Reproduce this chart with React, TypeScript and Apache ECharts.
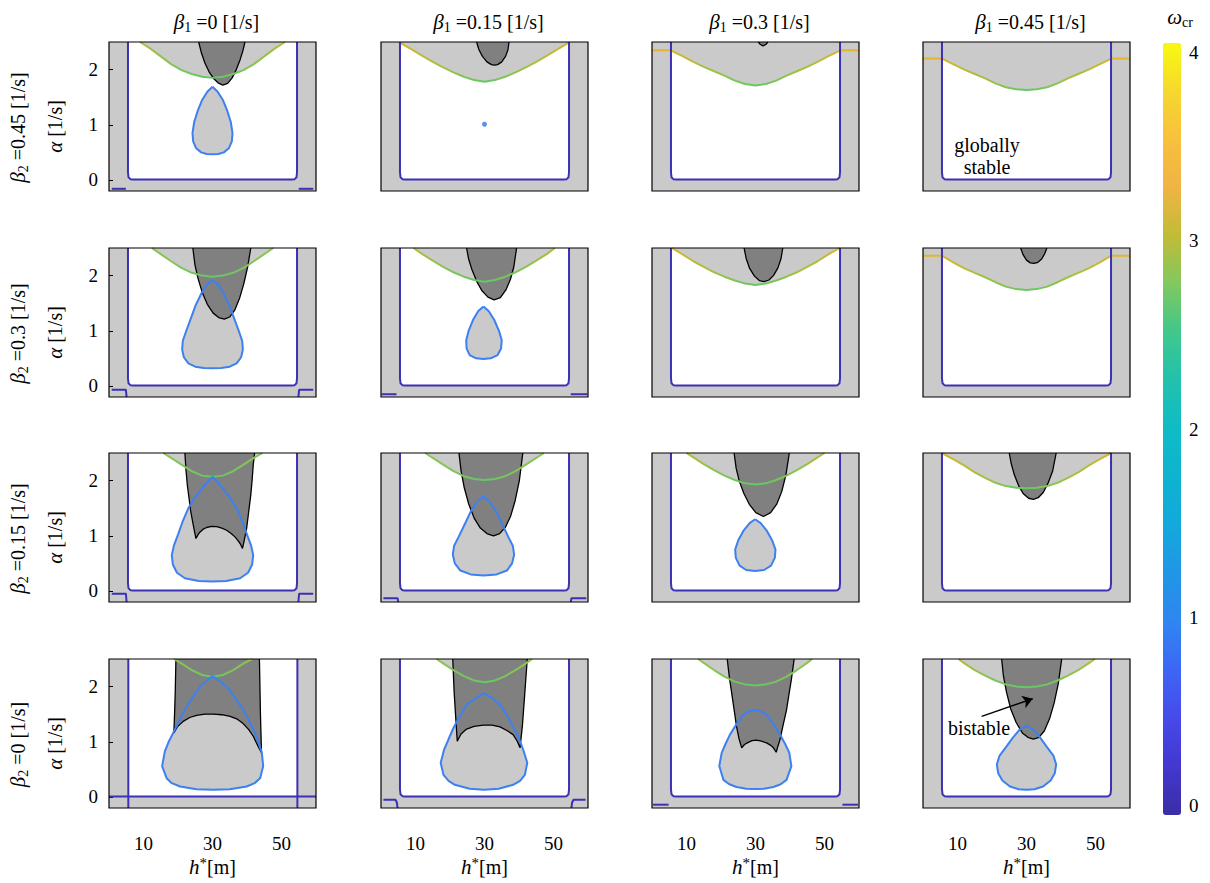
import React, { useEffect, useRef } from 'react';
import * as echarts from 'echarts';

// ---------------- values ----------------
const beta1Values = ['0', '0.15', '0.3', '0.45'];
const beta2Values = ['0.45', '0.3', '0.15', '0'];
const xTickValues = [10, 20, 30, 40, 50];
const xLabelValues = [10, 30, 50];
const yTickValues = [0, 1, 2];
const colorbarTicks = [0, 1, 2, 3, 4];
const xMin = 0, xMax = 60, yMin = -0.2, yMax = 2.5;
const cbMin = -0.05, cbMax = 4.05;

// stability boundary (omega ~ 0.1)
const boundaryU = [[5.5, 2.5], [5.5, 0.14], [5.65, 0.05], [6.2, 0.015], [7, 0.01], [53, 0.01], [53.8, 0.015], [54.35, 0.05], [54.5, 0.14], [54.5, 2.5]];
const boundaryCrossL = [[5.6, 2.5], [5.6, -0.2]];
const boundaryCrossR = [[54.6, 2.5], [54.6, -0.2]];
const boundaryCrossH = [[0, 0.01], [60, 0.01]];
const whiteBaseCross = [[5.6, 0.01], [54.6, 0.01]];

// small boundary pieces near the lower corners
const corner00a = [[0.8, -0.16], [4.9, -0.16]];
const corner00b = [[55.0, -0.16], [59.2, -0.16]];
const corner10a = [[0.8, -0.07], [4.9, -0.07], [5.1, -0.2]];
const corner10b = [[54.9, -0.2], [55.1, -0.07], [59.2, -0.07]];
const corner20a = [[0.8, -0.05], [4.9, -0.05], [5.1, -0.2]];
const corner20b = [[54.9, -0.2], [55.1, -0.05], [59.2, -0.05]];
const corner11a = [[0.2, -0.15], [4.5, -0.15]];
const corner11b = [[55.0, -0.15], [59.8, -0.15]];
const corner21a = [[0.7, -0.13], [4.8, -0.13], [5.0, -0.2]];
const corner21b = [[55.0, -0.2], [55.2, -0.13], [59.5, -0.13]];
const corner31a = [[0.7, -0.05], [4.2, -0.05], [4.6, -0.1], [4.8, -0.2]];
const corner31b = [[55.2, -0.2], [55.4, -0.1], [55.8, -0.05], [59.3, -0.05]];
const corner32a = [[0.3, -0.14], [4.8, -0.14]];
const corner32b = [[55.2, -0.14], [59.7, -0.14]];

// upper stability curves (omega ~ 2.5 - 3.3)
const g00 = [[9, 2.5], [12, 2.38], [15, 2.24], [18, 2.1], [21, 1.99], [24, 1.92], [27, 1.87], [30, 1.85], [33, 1.87], [36, 1.92], [39, 1.99], [42, 2.1], [45, 2.24], [48, 2.38], [51, 2.5]];
const g01 = [[5.5, 2.49], [9, 2.36], [12, 2.25], [15, 2.14], [18, 2.04], [21, 1.95], [24, 1.87], [27, 1.81], [30, 1.78], [33, 1.81], [36, 1.87], [39, 1.95], [42, 2.04], [45, 2.14], [48, 2.25], [51, 2.36], [54.4, 2.49]];
const g02 = [[5.4, 2.35], [9, 2.24], [12, 2.14], [15, 2.05], [18, 1.97], [21, 1.89], [24, 1.8], [27, 1.74], [30, 1.71], [33, 1.74], [36, 1.8], [39, 1.89], [42, 1.97], [45, 2.05], [48, 2.14], [51, 2.24], [54.6, 2.35]];
const g03 = [[5.5, 2.2], [9, 2.09], [12, 2.0], [15, 1.92], [18, 1.84], [21, 1.75], [24, 1.68], [27, 1.645], [30, 1.63], [33, 1.645], [36, 1.68], [39, 1.75], [42, 1.84], [45, 1.92], [48, 2.0], [51, 2.09], [54.6, 2.2]];
const g10 = [[12.4, 2.5], [15, 2.39], [18, 2.26], [21, 2.14], [24, 2.05], [27, 2.0], [30, 1.98], [33, 2.0], [36, 2.05], [39, 2.14], [42, 2.26], [45, 2.39], [47.6, 2.5]];
const g11 = [[9.4, 2.5], [12, 2.39], [15, 2.27], [18, 2.16], [21, 2.06], [24, 1.98], [27, 1.92], [30, 1.89], [33, 1.92], [36, 1.98], [39, 2.06], [42, 2.16], [45, 2.27], [48, 2.39], [50.4, 2.5]];
const g12 = [[5.7, 2.5], [9, 2.38], [12, 2.26], [15, 2.16], [18, 2.06], [21, 1.98], [24, 1.91], [27, 1.855], [30, 1.83], [33, 1.855], [36, 1.91], [39, 1.98], [42, 2.06], [45, 2.16], [48, 2.26], [51, 2.38], [54.4, 2.5]];
const g13 = [[5.5, 2.36], [9, 2.23], [12, 2.13], [15, 2.05], [18, 1.97], [21, 1.88], [24, 1.8], [27, 1.755], [30, 1.74], [33, 1.755], [36, 1.8], [39, 1.88], [42, 1.97], [45, 2.05], [48, 2.13], [51, 2.23], [54.6, 2.36]];
const g20 = [[15.7, 2.5], [18, 2.41], [21, 2.29], [24, 2.17], [27, 2.09], [30, 2.07], [33, 2.09], [36, 2.17], [39, 2.29], [42, 2.41], [44.5, 2.5]];
const g21 = [[12.8, 2.5], [15, 2.41], [18, 2.29], [21, 2.17], [24, 2.08], [27, 2.03], [30, 2.01], [33, 2.03], [36, 2.08], [39, 2.17], [42, 2.29], [45, 2.41], [47.2, 2.5]];
const g22 = [[10, 2.5], [12, 2.42], [15, 2.3], [18, 2.19], [21, 2.09], [24, 2.01], [27, 1.95], [30, 1.93], [33, 1.95], [36, 2.01], [39, 2.09], [42, 2.19], [45, 2.3], [48, 2.42], [50, 2.5]];
const g23 = [[5.4, 2.5], [9, 2.38], [12, 2.27], [15, 2.15], [18, 2.05], [21, 1.96], [24, 1.9], [27, 1.87], [30, 1.86], [33, 1.87], [36, 1.9], [39, 1.96], [42, 2.05], [45, 2.15], [48, 2.27], [51, 2.38], [54.6, 2.5]];
const g30 = [[18.8, 2.5], [21, 2.42], [24, 2.3], [27, 2.21], [30, 2.18], [33, 2.21], [36, 2.3], [39, 2.42], [41.5, 2.5]];
const g31 = [[16.1, 2.5], [18, 2.42], [21, 2.3], [24, 2.19], [27, 2.11], [30, 2.08], [33, 2.11], [36, 2.19], [39, 2.3], [42, 2.42], [43.8, 2.5]];
const g32 = [[13.4, 2.5], [15, 2.43], [18, 2.3], [21, 2.18], [24, 2.09], [27, 2.04], [30, 2.02], [33, 2.04], [36, 2.09], [39, 2.18], [42, 2.3], [45, 2.43], [46.4, 2.5]];
const g33 = [[10.3, 2.5], [12, 2.42], [15, 2.3], [18, 2.2], [21, 2.11], [24, 2.04], [27, 2.0], [30, 1.99], [33, 2.0], [36, 2.04], [39, 2.11], [42, 2.2], [45, 2.3], [48, 2.42], [49.8, 2.5]];

// plateau segments outside the boundary
const p02a = [[0, 2.35], [5.4, 2.35]];
const p02b = [[54.6, 2.35], [60, 2.35]];
const p03a = [[0, 2.2], [5.5, 2.2]];
const p03b = [[54.6, 2.2], [60, 2.2]];
const p13a = [[0, 2.36], [5.5, 2.36]];
const p13b = [[54.6, 2.36], [60, 2.36]];

// bistable region outlines (black)
const k00 = [[26.0, 2.5], [26.8, 2.3], [27.8, 2.12], [29, 1.96], [30.3, 1.84], [31.6, 1.76], [33, 1.72], [34.4, 1.75], [35.7, 1.85], [36.9, 2.0], [38, 2.18], [38.8, 2.34], [39.4, 2.5]];
const k01 = [[27.7, 2.5], [28.4, 2.36], [29.4, 2.24], [30.7, 2.14], [32, 2.09], [32.9, 2.08], [33.8, 2.09], [35, 2.14], [36.1, 2.24], [36.8, 2.36], [37.1, 2.5]];
const k02 = [[30.8, 2.5], [31.3, 2.46], [32.2, 2.43], [33.1, 2.46], [33.6, 2.5]];
const k10 = [[24.3, 2.5], [24.9, 2.2], [25.8, 1.95], [27, 1.7], [28.5, 1.48], [30.2, 1.32], [31.8, 1.24], [33.4, 1.21], [35, 1.25], [36.5, 1.38], [37.9, 1.6], [39.1, 1.86], [40.2, 2.16], [41.1, 2.5]];
const k11 = [[24.8, 2.5], [25.4, 2.3], [26.4, 2.1], [27.7, 1.9], [29.2, 1.73], [31, 1.61], [32.8, 1.56], [34.6, 1.6], [36.2, 1.74], [37.5, 1.93], [38.5, 2.16], [39.3, 2.5]];
const k12 = [[26.7, 2.5], [27.3, 2.31], [28.3, 2.13], [29.7, 1.99], [31.1, 1.91], [32.5, 1.89], [33.9, 1.92], [35.2, 2.0], [36.5, 2.14], [37.4, 2.31], [37.9, 2.5]];
const k13 = [[28.3, 2.5], [29, 2.38], [30, 2.28], [31.1, 2.23], [32.2, 2.22], [33.3, 2.24], [34.4, 2.3], [35.3, 2.4], [35.9, 2.5]];
const k20 = [[22.0, 2.5], [22.3, 2.2], [22.7, 1.92], [23.2, 1.68], [23.7, 1.44], [24.4, 1.2], [25.2, 0.95], [25.8, 1.02], [26.4, 1.07], [27.3, 1.12], [28.3, 1.15], [29.7, 1.17], [31.2, 1.165], [32.7, 1.14], [34.1, 1.1], [35.4, 1.04], [36.5, 0.98], [37.3, 0.92], [38, 0.86], [38.7, 0.77], [39.3, 0.95], [39.9, 1.14], [40.5, 1.44], [41.1, 1.74], [41.5, 2.02], [41.8, 2.28], [42.2, 2.5]];
const k21 = [[22.6, 2.5], [23.2, 2.18], [24.1, 1.88], [25.4, 1.58], [27, 1.32], [28.8, 1.14], [30.7, 1.04], [32.6, 1.0], [34.4, 1.04], [36.1, 1.16], [37.6, 1.36], [38.9, 1.64], [40.1, 2.0], [41.1, 2.5]];
const k22 = [[23.8, 2.5], [24.4, 2.22], [25.3, 1.99], [26.6, 1.77], [28.2, 1.57], [30.1, 1.42], [32.3, 1.35], [34.4, 1.42], [36.2, 1.58], [37.6, 1.8], [38.8, 2.1], [39.8, 2.5]];
const k23 = [[25, 2.5], [25.6, 2.3], [26.5, 2.1], [27.7, 1.91], [29.1, 1.76], [30.6, 1.68], [32, 1.66], [33.4, 1.69], [34.9, 1.79], [36.3, 1.96], [37.6, 2.18], [38.6, 2.5]];
const k30 = [[19.4, 2.5], [19.2, 1.9], [19, 1.5], [18.8, 1.16], [19.8, 1.27], [21.5, 1.37], [23.4, 1.44], [25.4, 1.48], [27.8, 1.5], [30.2, 1.5], [32.7, 1.49], [35.1, 1.46], [37.2, 1.41], [38.9, 1.33], [40.5, 1.22], [41.8, 1.1], [43.2, 0.92], [44.2, 0.8], [43.9, 1.5], [43.6, 2.5]];
const k31 = [[20.8, 2.5], [21.2, 1.9], [21.7, 1.4], [22.1, 1.01], [23.2, 1.14], [24.8, 1.23], [27, 1.28], [29.7, 1.3], [32.2, 1.3], [34.5, 1.27], [36.6, 1.2], [38.3, 1.13], [39.5, 1.01], [40.3, 0.89], [41, 1.3], [41.7, 1.9], [42.4, 2.5]];
const k32 = [[21.8, 2.5], [22.4, 2.18], [23.1, 1.88], [23.8, 1.58], [24.5, 1.28], [25.2, 1.06], [26, 0.89], [26.8, 0.95], [27.9, 0.99], [29, 1.02], [30.3, 1.03], [31.7, 1.01], [33.2, 0.98], [34.3, 0.94], [35.2, 0.89], [36, 0.81], [36.5, 0.92], [37.1, 1.04], [38, 1.3], [39, 1.58], [39.7, 1.86], [40.4, 2.13], [41.2, 2.5]];
const k33 = [[22.8, 2.5], [23.3, 2.2], [24.2, 1.9], [25.4, 1.6], [27, 1.35], [28.8, 1.16], [30.4, 1.08], [32, 1.05], [33.6, 1.08], [35.2, 1.2], [36.7, 1.42], [38, 1.7], [39.2, 2.05], [40.2, 2.5]];

// unstable islands (omega ~ 1)
const d00 = [[30, 1.69], [31.5, 1.6], [33, 1.45], [34.3, 1.25], [35.3, 1.05], [35.8, 0.85], [35.6, 0.7], [34.8, 0.58], [33.3, 0.5], [31.7, 0.47], [30, 0.465], [28.3, 0.47], [26.7, 0.5], [25.2, 0.58], [24.4, 0.7], [24.2, 0.85], [24.7, 1.05], [25.7, 1.25], [27, 1.45], [28.5, 1.6], [30, 1.69]];
const dot01 = [[30, 1.01, 0.8]];
const d10 = [[30, 1.92], [31.6, 1.84], [33.2, 1.68], [34.9, 1.46], [36.3, 1.22], [37.6, 1.0], [38.6, 0.82], [38.8, 0.66], [38.3, 0.52], [37, 0.41], [35, 0.35], [32.5, 0.325], [30, 0.32], [27.5, 0.325], [25, 0.35], [23, 0.41], [21.7, 0.52], [21.2, 0.66], [21.4, 0.82], [22.4, 1.0], [23.7, 1.22], [25.1, 1.46], [26.8, 1.68], [28.4, 1.84], [30, 1.92]];
const d11 = [[29.7, 1.44], [31.2, 1.36], [32.8, 1.2], [34.2, 1.0], [35, 0.83], [34.8, 0.68], [33.8, 0.56], [31.8, 0.5], [29.7, 0.49], [27.6, 0.5], [25.7, 0.56], [24.8, 0.68], [24.7, 0.83], [25.4, 1.0], [26.7, 1.2], [28.2, 1.36], [29.7, 1.44]];
const d20 = [[30, 2.07], [32.5, 1.9], [35, 1.7], [37, 1.5], [38.7, 1.25], [40, 1.02], [41.2, 0.82], [41.8, 0.65], [41.5, 0.48], [40.3, 0.33], [38, 0.23], [34, 0.18], [30, 0.17], [26, 0.18], [22, 0.23], [19.7, 0.33], [18.5, 0.48], [18.2, 0.65], [18.8, 0.82], [20, 1.02], [21.3, 1.25], [23, 1.5], [25, 1.7], [27.5, 1.9], [30, 2.07]];
const d21 = [[29.7, 1.71], [31.5, 1.62], [33.3, 1.45], [35.2, 1.2], [36.9, 0.98], [38.2, 0.82], [38.6, 0.66], [38, 0.5], [36.5, 0.37], [33.5, 0.3], [29.7, 0.28], [26, 0.3], [23, 0.37], [21.4, 0.5], [20.8, 0.66], [21.2, 0.82], [22.5, 0.98], [24.2, 1.2], [26.1, 1.45], [27.9, 1.62], [29.7, 1.71]];
const d22 = [[29.9, 1.3], [31.5, 1.23], [33.2, 1.1], [34.8, 0.92], [35.8, 0.75], [35.6, 0.6], [34.5, 0.46], [32.5, 0.38], [29.9, 0.36], [27.3, 0.38], [25.4, 0.46], [24.3, 0.6], [24.1, 0.75], [25, 0.92], [26.6, 1.1], [28.3, 1.23], [29.9, 1.3]];
const d30 = [[30, 2.19], [32, 2.1], [34.1, 2.0], [36.5, 1.8], [38.9, 1.58], [40.7, 1.37], [42.3, 1.16], [43.4, 0.98], [44.3, 0.8], [44.7, 0.56], [43.8, 0.34], [42.2, 0.25], [39.9, 0.19], [35, 0.14], [30.2, 0.13], [25.4, 0.14], [20.6, 0.19], [18.2, 0.25], [16.7, 0.34], [15.4, 0.56], [16.2, 0.83], [17.3, 1.0], [18.6, 1.16], [20.3, 1.37], [22, 1.58], [24.2, 1.8], [26.4, 2.0], [28.2, 2.1], [30, 2.19]];
const d31 = [[29.9, 1.88], [32.2, 1.79], [34.5, 1.67], [36.8, 1.45], [38.8, 1.22], [40.1, 1.04], [41.2, 0.86], [42.4, 0.62], [41.7, 0.4], [40.3, 0.29], [38.3, 0.22], [34.1, 0.15], [29.9, 0.13], [25.7, 0.15], [21.4, 0.22], [19.6, 0.29], [18.1, 0.4], [17.3, 0.62], [18.3, 0.86], [19.6, 1.05], [21, 1.25], [22.8, 1.46], [24.8, 1.67], [27.4, 1.79], [29.9, 1.88]];
const d32 = [[29.9, 1.58], [31.6, 1.55], [33.2, 1.49], [35.2, 1.32], [37.1, 1.13], [38.6, 0.96], [39.8, 0.8], [40.4, 0.56], [39, 0.31], [37.3, 0.23], [35.2, 0.18], [32.5, 0.15], [29.9, 0.145], [27.3, 0.15], [24.5, 0.18], [22.4, 0.23], [20.7, 0.31], [19.5, 0.56], [20.2, 0.8], [21.3, 0.96], [22.6, 1.13], [24.5, 1.32], [26.5, 1.49], [28.2, 1.55], [29.9, 1.58]];
const d33 = [[30, 1.29], [32, 1.22], [34, 1.07], [36, 0.9], [37.8, 0.75], [38.6, 0.59], [38.2, 0.43], [37, 0.3], [34.8, 0.19], [32.3, 0.14], [30, 0.13], [27.7, 0.14], [25.2, 0.19], [23, 0.3], [21.8, 0.43], [21.4, 0.59], [22.2, 0.75], [24, 0.9], [26, 1.07], [28, 1.22], [30, 1.29]];

// annotation arrow (data coords of panel beta1=0.45, beta2=0)
const bistableArrow = [[17.0, 1.46], [31.8, 1.78]];

// parula-like colour map, evenly spaced every 0.25 from 0 to 4
const parula = ['#3b2ea5', '#4337cf', '#4749e9', '#3d66f3', '#2f86f2', '#2096e6', '#14a8dc', '#0db3d0', '#0ebcc6', '#22c1ad', '#3fc78c', '#80c860', '#c0bc36', '#f0b444', '#f7c03e', '#f6d82e', '#f8f910'];

type Pt = number[];
interface Panel { r: number; c: number; green: Pt[]; black?: Pt[]; drop?: Pt[]; dot?: Pt[]; plateaus: Pt[][]; boundary: Pt[][]; base: Pt[]; }

const whiteBaseU = boundaryU.slice(1, -1);

const panels: Panel[] = [
  { r: 0, c: 0, green: g00, black: k00, drop: d00, plateaus: [], boundary: [boundaryU, corner00a, corner00b], base: whiteBaseU },
  { r: 0, c: 1, green: g01, black: k01, dot: dot01, plateaus: [], boundary: [boundaryU], base: whiteBaseU },
  { r: 0, c: 2, green: g02, black: k02, plateaus: [p02a, p02b], boundary: [boundaryU], base: whiteBaseU },
  { r: 0, c: 3, green: g03, plateaus: [p03a, p03b], boundary: [boundaryU], base: whiteBaseU },
  { r: 1, c: 0, green: g10, black: k10, drop: d10, plateaus: [], boundary: [boundaryU, corner10a, corner10b], base: whiteBaseU },
  { r: 1, c: 1, green: g11, black: k11, drop: d11, plateaus: [], boundary: [boundaryU, corner11a, corner11b], base: whiteBaseU },
  { r: 1, c: 2, green: g12, black: k12, plateaus: [], boundary: [boundaryU], base: whiteBaseU },
  { r: 1, c: 3, green: g13, black: k13, plateaus: [p13a, p13b], boundary: [boundaryU], base: whiteBaseU },
  { r: 2, c: 0, green: g20, black: k20, drop: d20, plateaus: [], boundary: [boundaryU, corner20a, corner20b], base: whiteBaseU },
  { r: 2, c: 1, green: g21, black: k21, drop: d21, plateaus: [], boundary: [boundaryU, corner21a, corner21b], base: whiteBaseU },
  { r: 2, c: 2, green: g22, black: k22, drop: d22, plateaus: [], boundary: [boundaryU], base: whiteBaseU },
  { r: 2, c: 3, green: g23, black: k23, plateaus: [], boundary: [boundaryU], base: whiteBaseU },
  { r: 3, c: 0, green: g30, black: k30, drop: d30, plateaus: [], boundary: [boundaryCrossL, boundaryCrossR, boundaryCrossH], base: whiteBaseCross },
  { r: 3, c: 1, green: g31, black: k31, drop: d31, plateaus: [], boundary: [boundaryU, corner31a, corner31b], base: whiteBaseU },
  { r: 3, c: 2, green: g32, black: k32, drop: d32, plateaus: [], boundary: [boundaryU, corner32a, corner32b], base: whiteBaseU },
  { r: 3, c: 3, green: g33, black: k33, drop: d33, plateaus: [], boundary: [boundaryU], base: whiteBaseU },
];

// ---------------- layout / style ----------------
const COL_LEFT = [109, 381, 652, 923];
const ROW_TOP = [42, 248, 453, 659];
const PW = 207, PH = 149;
const CB_LEFT = 1163, CB_TOP = 43, CB_W = 18, CB_H = 772;
const SERIF = "'Liberation Serif', 'DejaVu Serif', serif";
const LIGHT = '#cacaca', DARK = '#808080', PURPLE = '#3c31b4', BLUE = '#3c80f2', PLATEAU = '#e2b52c';
const FS = 20;

const RICH: any = {
  it: { fontFamily: SERIF, fontStyle: 'italic', fontSize: FS + 1, lineHeight: 24, fill: '#000', color: '#000' },
  n: { fontFamily: SERIF, fontSize: FS, lineHeight: 24, fill: '#000', color: '#000' },
  sub: { fontFamily: SERIF, fontSize: 14, lineHeight: 13, verticalAlign: 'bottom', fill: '#000', color: '#000' },
  sup: { fontFamily: SERIF, fontSize: 15, lineHeight: 20, verticalAlign: 'top', fill: '#000', color: '#000' },
};

function greenGradient(pts: Pt[]) {
  const xs = pts.map((p) => p[0]);
  const span = Math.max(...xs) - Math.min(...xs);
  const edge = span > 45 ? '#d6b52c' : span > 36 ? '#b3bd38' : '#8ec450';
  const mid = span > 45 ? '#9cc246' : '#7cc55a';
  return new echarts.graphic.LinearGradient(0, 0, 1, 0, [
    { offset: 0, color: edge },
    { offset: 0.27, color: mid },
    { offset: 0.5, color: '#62c866' },
    { offset: 0.73, color: mid },
    { offset: 1, color: edge },
  ]);
}

function whitePolygon(base: Pt[], green: Pt[]) {
  const xL = base[0][0];
  const xR = base[base.length - 1][0];
  const pts: Pt[] = base.slice();
  if (green[green.length - 1][0] < xR - 0.05) pts.push([xR, yMax]);
  for (let k = green.length - 1; k >= 0; k--) pts.push(green[k]);
  if (green[0][0] > xL + 0.05) pts.push([xL, yMax]);
  return pts;
}

function buildOption() {
  const grid: any[] = [];
  const xAxis: any[] = [];
  const yAxis: any[] = [];
  const series: any[] = [];
  let dotSeriesIndex = 0;

  const line = (i: number, data: Pt[], color: any, width: number, z: number, extra: any = {}) => ({
    type: 'line', xAxisIndex: i, yAxisIndex: i, data, symbol: 'none', showSymbol: false,
    lineStyle: { color, width }, itemStyle: { color: typeof color === 'string' ? color : '#62c866' },
    z, silent: true, animation: false, ...extra,
  });

  panels.forEach((p, i) => {
    grid.push({ left: COL_LEFT[p.c], top: ROW_TOP[p.r], width: PW, height: PH, show: true, backgroundColor: LIGHT, borderWidth: 0, containLabel: false, outerBoundsMode: 'none' });
    const bottom = p.r === 3;
    const left = p.c === 0;
    xAxis.push({
      type: 'value', gridIndex: i, min: xMin, max: xMax,
      axisLine: { show: false }, splitLine: { show: false },
      axisTick: { show: bottom, inside: true, length: 5, customValues: xTickValues, lineStyle: { color: '#000', width: 1 } },
      axisLabel: { show: bottom, customValues: xLabelValues, margin: 26, fontSize: 19, fontFamily: SERIF, color: '#000' },
    });
    yAxis.push({
      type: 'value', gridIndex: i, min: yMin, max: yMax,
      axisLine: { show: false }, splitLine: { show: false },
      axisTick: { show: left, inside: true, length: 4, customValues: yTickValues, lineStyle: { color: '#000', width: 1 } },
      axisLabel: { show: left, customValues: yTickValues, margin: 11, fontSize: 19, fontFamily: SERIF, color: '#000' },
    });

    const polys: { pts: Pt[]; fill: string }[] = [{ pts: whitePolygon(p.base, p.green), fill: '#ffffff' }];
    if (p.drop) polys.push({ pts: p.drop, fill: LIGHT });
    if (p.black) polys.push({ pts: p.black, fill: DARK });
    series.push({
      type: 'custom', xAxisIndex: i, yAxisIndex: i, z: 1, silent: true, animation: false, data: [0],
      renderItem: (_params: any, api: any) => ({
        type: 'group',
        children: polys.map((poly) => ({
          type: 'polygon',
          shape: { points: poly.pts.map((pt) => api.coord(pt)) },
          style: { fill: poly.fill },
        })),
      }),
    });

    if (p.black) {
      const extra: any = {};
      if (p.r === 3 && p.c === 3) {
        extra.markLine = {
          silent: true, animation: false, symbol: ['none', 'arrow'], symbolSize: 10,
          lineStyle: { color: '#000', width: 1.5, type: 'solid' }, label: { show: false },
          data: [[{ coord: bistableArrow[0] }, { coord: bistableArrow[1] }]],
        };
      }
      series.push(line(i, p.black, '#000', 1.3, 3, extra));
    }
    series.push(line(i, p.green, greenGradient(p.green), 2, 4));
    p.plateaus.forEach((seg) => series.push(line(i, seg, PLATEAU, 2, 4)));
    if (p.drop) series.push(line(i, p.drop, BLUE, 2, 4));
    if (p.dot) {
      dotSeriesIndex = series.length;
      series.push({ type: 'scatter', xAxisIndex: i, yAxisIndex: i, data: p.dot, symbolSize: 5, z: 4, silent: true, animation: false });
    }
    p.boundary.forEach((seg) => series.push(line(i, seg, PURPLE, 2, 4)));

    series.push({
      type: 'custom', xAxisIndex: i, yAxisIndex: i, z: 6, silent: true, animation: false, data: [0],
      renderItem: (_params: any, api: any) => {
        const a = api.coord([xMin, yMax]);
        const b = api.coord([xMax, yMin]);
        return { type: 'rect', shape: { x: a[0], y: a[1], width: b[0] - a[0], height: b[1] - a[1] }, style: { fill: 'none', stroke: '#000', lineWidth: 1.2 } };
      },
    });
  });

  const graphic: any[] = [];
  const txt = (x: number, y: number, text: string, rotation = 0, extra: any = {}) => ({
    type: 'text', x, y, rotation, z: 100, silent: true,
    style: { text, rich: RICH, align: 'center', verticalAlign: 'middle', fill: '#000', fontFamily: SERIF, fontSize: FS, ...extra },
  });

  beta1Values.forEach((v, c) => {
    graphic.push(txt(COL_LEFT[c] + PW / 2 + 4, 22, `{it|β}{sub|1}{n| =${v} [1/s]}`));
    graphic.push(txt(COL_LEFT[c] + PW / 2, 867, '{it|h}{sup|*}{n|[m]}'));
  });
  beta2Values.forEach((v, r) => {
    const cy = ROW_TOP[r] + PH / 2 + 11;
    graphic.push(txt(18, cy, `{it|β}{sub|2}{n| =${v} [1/s]}`, Math.PI / 2));
    graphic.push(txt(55, cy - 1, '{it|α}{n| [1/s]}', Math.PI / 2));
  });
  colorbarTicks.forEach((v) => {
    const y = CB_TOP + ((cbMax - v) / (cbMax - cbMin)) * CB_H;
    graphic.push({ type: 'text', x: 1189, y, z: 100, silent: true, style: { text: String(v), fontFamily: SERIF, fontSize: 19, fill: '#000', align: 'left', verticalAlign: 'middle' } });
  });
  graphic.push(txt(1180, 17, '{it|ω}{sub|cr}'));
  graphic.push({ type: 'text', x: 987, y: 156, z: 100, silent: true, style: { text: 'globally\nstable', fontFamily: SERIF, fontSize: FS, lineHeight: 22, fill: '#000', align: 'center', verticalAlign: 'middle' } });
  graphic.push({ type: 'text', x: 979, y: 728, z: 100, silent: true, style: { text: 'bistable', fontFamily: SERIF, fontSize: FS, fill: '#000', align: 'center', verticalAlign: 'middle' } });

  return {
    animation: false,
    backgroundColor: '#ffffff',
    grid, xAxis, yAxis, series, graphic,
    visualMap: {
      type: 'continuous', min: cbMin, max: cbMax, dimension: 2, seriesIndex: dotSeriesIndex,
      orient: 'vertical', left: CB_LEFT, top: CB_TOP, itemWidth: CB_W, itemHeight: CB_H, padding: 0,
      calculable: false, hoverLink: false, realtime: false, text: null,
      inRange: { color: parula },
    },
  };
}

export default function App() {
  const ref = useRef<HTMLDivElement>(null);
  useEffect(() => {
    if (!ref.current) return;
    const chart = echarts.init(ref.current, null, { renderer: 'svg' });
    chart.setOption(buildOption() as any);
    return () => chart.dispose();
  }, []);
  return <div ref={ref} style={{ position: 'fixed', left: 0, top: 0, width: 1210, height: 883, background: '#fff' }} />;
}
